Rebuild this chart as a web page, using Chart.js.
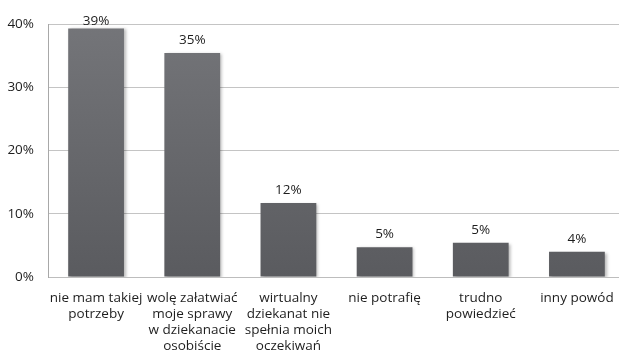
<!DOCTYPE html>
<html>
<head>
<meta charset="utf-8">
<script src="https://cdn.jsdelivr.net/npm/chart.js@4/dist/chart.umd.min.js"></script>
<style>
  html, body { margin: 0; padding: 0; background: #fff; overflow: hidden; }
  #wrap { width: 625px; height: 352px; }
</style>
</head>
<body>
<div id="wrap"><canvas id="c" width="625" height="352"></canvas></div>
<script>
// Survey answers: why students do not use the virtual dean's office
const categories = [
  ['nie mam takiej', 'potrzeby'],
  ['wolę załatwiać', 'moje sprawy', 'w dziekanacie', 'osobiście'],
  ['wirtualny', 'dziekanat nie', 'spełnia moich', 'oczekiwań'],
  ['nie potrafię'],
  ['trudno', 'powiedzieć'],
  ['inny powód']
];
const shares = [39.3, 35.4, 11.7, 4.7, 5.4, 4.0];
const yTicks = [0, 10, 20, 30, 40];

const FONT = '"Open Sans", "Noto Sans", sans-serif';

// soft shadow behind the bars
const barShadow = {
  id: 'barShadow',
  beforeDatasetsDraw(chart) {
    const ctx = chart.ctx;
    ctx.save();
    ctx.shadowColor = 'rgba(0,0,0,0.28)';
    ctx.shadowBlur = 3;
    ctx.shadowOffsetX = 2;
    ctx.shadowOffsetY = 1;
  },
  afterDatasetsDraw(chart) {
    chart.ctx.restore();
  }
};

// percentage label above each bar (kept inside the plot when the bar is tall)
const valueLabels = {
  id: 'valueLabels',
  afterDatasetsDraw(chart) {
    const ctx = chart.ctx;
    const meta = chart.getDatasetMeta(0);
    const top = chart.chartArea.top;
    ctx.save();
    ctx.font = '13.5px ' + FONT;
    ctx.fillStyle = '#1e1e1e';
    ctx.textAlign = 'center';
    ctx.textBaseline = 'alphabetic';
    meta.data.forEach((bar, i) => {
      const y = Math.max(bar.y - 9, top + 1);
      ctx.fillText(Math.round(shares[i]) + '%', bar.x, y);
    });
    ctx.restore();
  }
};

new Chart(document.getElementById('c'), {
  type: 'bar',
  data: {
    labels: categories,
    datasets: [{
      data: shares,
      backgroundColor(context) {
        const area = context.chart.chartArea;
        if (!area) return '#68696d';
        const g = context.chart.ctx.createLinearGradient(0, area.top, 0, area.bottom);
        g.addColorStop(0, '#747579');
        g.addColorStop(1, '#5a5b5f');
        return g;
      },
      borderWidth: 0,
      barPercentage: 0.58,
      categoryPercentage: 1.0
    }]
  },
  options: {
    responsive: false,
    animation: false,
    devicePixelRatio: 1,
    layout: { padding: { top: 24, left: 0, right: 0, bottom: 0 } },
    plugins: {
      legend: { display: false },
      tooltip: { enabled: false }
    },
    scales: {
      x: {
        grid: { display: false },
        border: { display: true, color: '#bdbdbd', width: 1 },
        ticks: {
          color: '#1e1e1e',
          font: { family: FONT, size: 13.5, lineHeight: 1.18 },
          maxRotation: 0,
          autoSkip: false,
          padding: 5
        },
        afterFit(scale) { scale.height = 75; }
      },
      y: {
        min: 0,
        max: 40,
        afterBuildTicks(scale) {
          scale.ticks = yTicks.map(v => ({ value: v }));
        },
        grid: { color: '#c4c4c4', lineWidth: 1, drawTicks: false },
        border: { display: true, color: '#a8a8a8', width: 1 },
        ticks: {
          color: '#1e1e1e',
          font: { family: FONT, size: 13.5 },
          padding: 14,
          callback: v => v + '%'
        },
        afterFit(scale) { scale.width = 48; }
      }
    }
  },
  plugins: [barShadow, valueLabels]
});
</script>
</body>
</html>
